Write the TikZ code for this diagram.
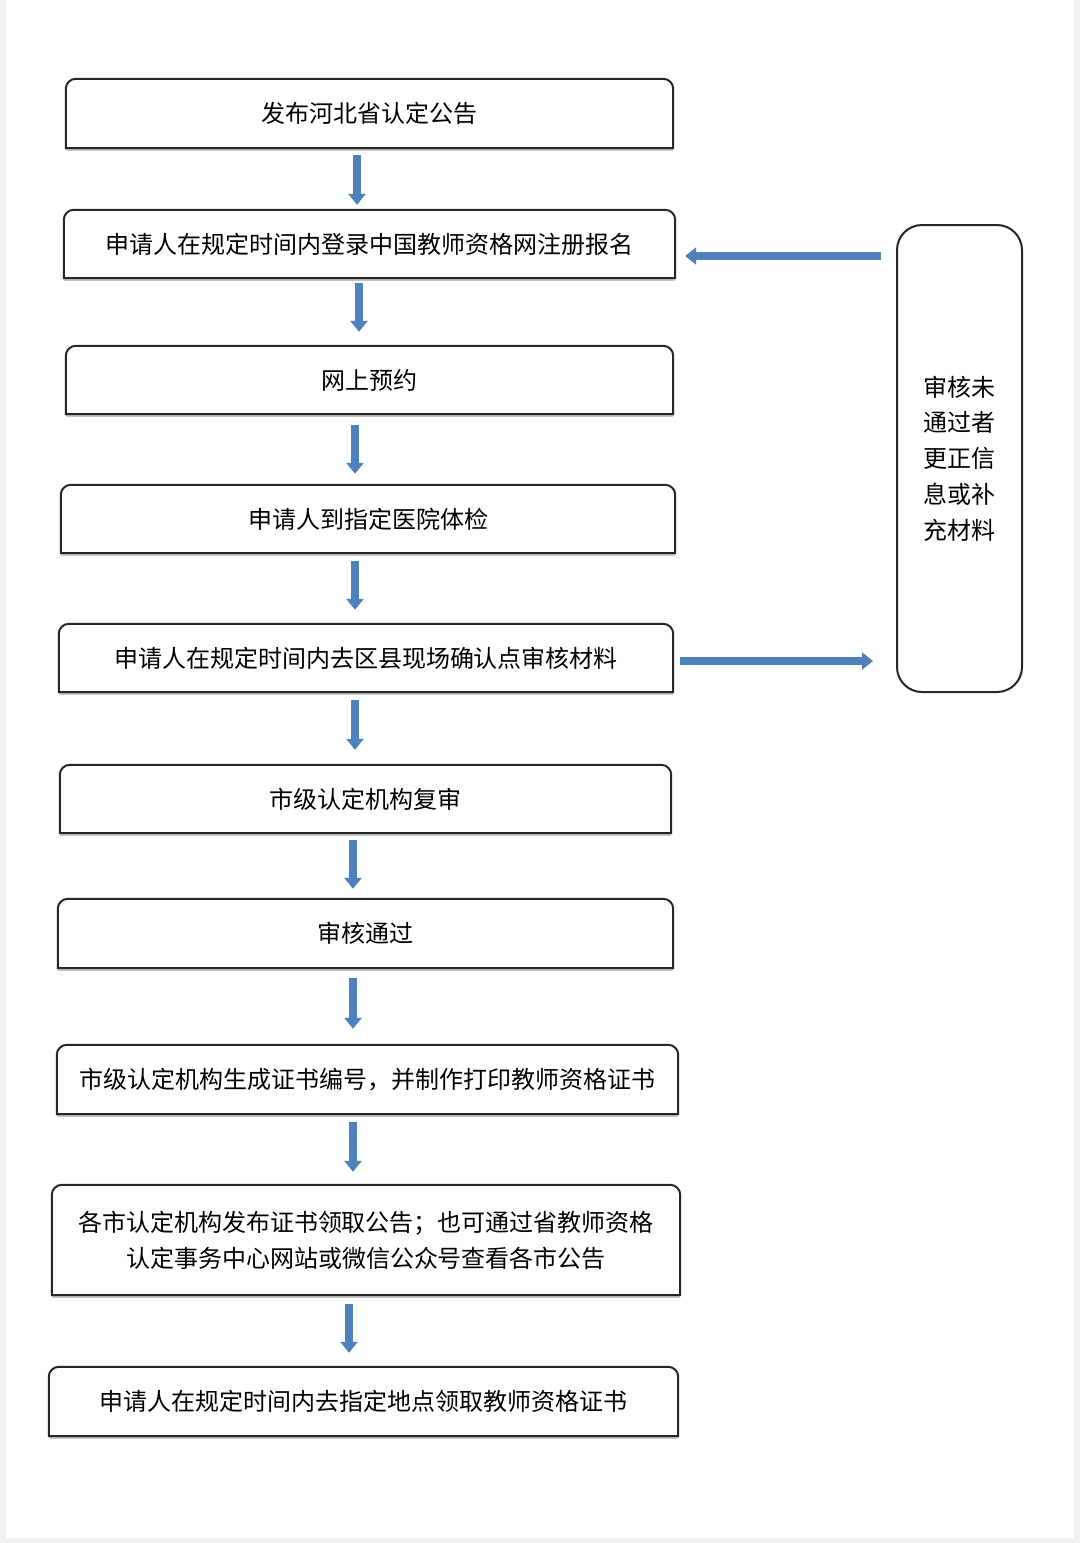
\documentclass[tikz,border=0pt]{standalone}
\usepackage{fontspec}
\setmainfont{Noto Sans CJK SC}
\usetikzlibrary{arrows.meta}
\definecolor{arrowblue}{HTML}{4F81BD}
\definecolor{framegray}{HTML}{F1F1F1}
\definecolor{linegray}{HTML}{262626}
\newcommand{\topRoundBox}[1]{%
  \draw[gray!45, line width=2pt] ([yshift=-2pt]#1.south west) -- ([yshift=-2pt]#1.south east);
  \draw[boxline] (#1.south west) -- ([yshift=-10pt]#1.north west)
    arc[start angle=180, end angle=90, radius=10pt]
    -- ([xshift=-10pt]#1.north east)
    arc[start angle=90, end angle=0, radius=10pt]
    -- (#1.south east) -- cycle;}
\begin{document}
\begin{tikzpicture}[x=1pt, y=1pt,
  boxline/.style={draw=linegray, line width=2pt},
  stepbox/.style={inner sep=0pt, align=center, font=\fontsize{24}{36}\selectfont},
  barrow/.style={draw=arrowblue, line width=8pt, -{Triangle[width=17pt, length=11pt]}}]
\fill[framegray] (0,0) rectangle (1080,-1543);
\fill[white] (6,0) rectangle (1074,-1538);
\useasboundingbox (0,0) rectangle (1080,-1543);

\node[stepbox, minimum width=607, minimum height=69] (b1) at (369.5,-113.5) {发布河北省认定公告};
\node[stepbox, minimum width=611, minimum height=68] (b2) at (369.5,-244) {申请人在规定时间内登录中国教师资格网注册报名};
\node[stepbox, minimum width=607, minimum height=68] (b3) at (369.5,-380) {网上预约};
\node[stepbox, minimum width=614, minimum height=68] (b4) at (368,-519) {申请人到指定医院体检};
\node[stepbox, minimum width=614, minimum height=68] (b5) at (366,-658) {申请人在规定时间内去区县现场确认点审核材料};
\node[stepbox, minimum width=611, minimum height=68] (b6) at (365.5,-799) {市级认定机构复审};
\node[stepbox, minimum width=615, minimum height=69] (b7) at (365.5,-933.5) {审核通过};
\node[stepbox, minimum width=621, minimum height=69] (b8) at (367.5,-1079.5) {市级认定机构生成证书编号，并制作打印教师资格证书};
\node[stepbox, minimum width=628, minimum height=110] (b9) at (366,-1240) {各市认定机构发布证书领取公告；也可通过省教师资格\\认定事务中心网站或微信公众号查看各市公告};
\node[stepbox, minimum width=629, minimum height=69] (b10) at (363.5,-1401.5) {申请人在规定时间内去指定地点领取教师资格证书};

\foreach \n in {b1,b2,b3,b4,b5,b6,b7,b8,b9,b10} {\topRoundBox{\n}}

\node[boxline, rounded corners=25pt, minimum width=125, minimum height=467, inner sep=0pt,
      align=center, font=\fontsize{24}{35.7}\selectfont] (side) at (959.5,-458.5)
  {审核未\\通过者\\更正信\\息或补\\充材料};

\draw[barrow] ([xshift=-12.5pt,yshift=-7pt]b1.south) -- ([xshift=-12.5pt,yshift=5pt]b2.north);
\draw[barrow] ([xshift=-10.5pt,yshift=-5pt]b2.south) -- ([xshift=-10.5pt,yshift=14pt]b3.north);
\draw[barrow] ([xshift=-14.5pt,yshift=-11pt]b3.south) -- ([xshift=-13pt,yshift=11pt]b4.north);
\draw[barrow] ([xshift=-13pt,yshift=-8pt]b4.south) -- ([xshift=-11pt,yshift=14pt]b5.north);
\draw[barrow] ([xshift=-11pt,yshift=-8pt]b5.south) -- ([xshift=-10.5pt,yshift=15pt]b6.north);
\draw[barrow] ([xshift=-12.5pt,yshift=-7pt]b6.south) -- ([xshift=-12.5pt,yshift=10pt]b7.north);
\draw[barrow] ([xshift=-12.5pt,yshift=-10pt]b7.south) -- ([xshift=-14.5pt,yshift=16pt]b8.north);
\draw[barrow] ([xshift=-14.5pt,yshift=-8pt]b8.south) -- ([xshift=-13pt,yshift=13pt]b9.north);
\draw[barrow] ([xshift=-17pt,yshift=-9pt]b9.south) -- ([xshift=-14.5pt,yshift=14pt]b10.north);

\draw[barrow] ([xshift=-15pt,yshift=202.5pt]side.west) -- ([xshift=10pt,yshift=-12pt]b2.east);
\draw[barrow] ([xshift=7pt,yshift=-3pt]b5.east) -- ([xshift=-23pt,yshift=-202.5pt]side.west);
\end{tikzpicture}
\end{document}
